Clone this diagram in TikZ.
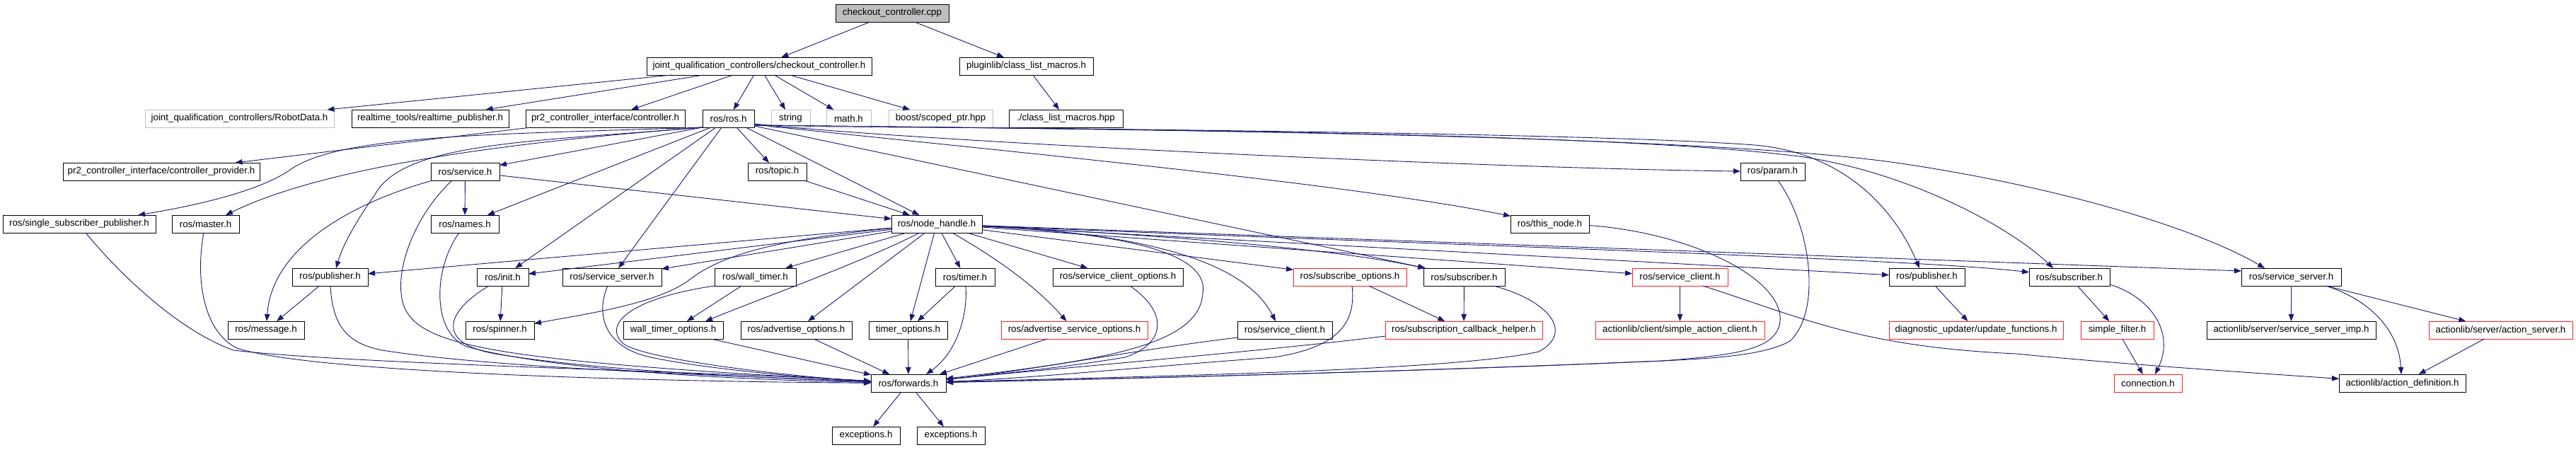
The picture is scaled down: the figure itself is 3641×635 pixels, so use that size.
\documentclass[tikz,border=0pt]{standalone}
\usepackage{fontspec}
\setmainfont{Liberation Sans}
\usetikzlibrary{arrows.meta,calc}
\definecolor{edgec}{HTML}{191970}
\definecolor{greyb}{HTML}{BFBFBF}
\definecolor{redb}{HTML}{FF2020}
\newcommand\mybox[6]{%
  \pgfmathsetmacro\mbw{#4-#3}%
  \pgfmathsetmacro\mbx{(#3+#4)/2}%
  \pgfmathsetmacro\mby{#5+12.5}%
  \node[#1, minimum width=\mbw pt] (#2) at (\mbx,\mby) {#6};}
\begin{document}
\begin{tikzpicture}[x=1pt,y=-1pt,
  nd/.style={draw=black, line width=1pt, inner sep=0pt, outer sep=0pt,
    minimum height=25pt, font=\fontsize{13.33}{16}\selectfont},
  grey/.style={nd, draw=greyb},
  redn/.style={nd, draw=redb},
  root/.style={nd, fill=greyb},
  dep/.style={draw=edgec, line width=0.9pt, -{Triangle[length=10pt,width=7.5pt]}}]
\useasboundingbox[fill=white] (0,0) rectangle (3641,635);
% row 1
\mybox{root}{cpp}{1181}{1341}{6}{checkout\_controller.cpp}
% row 2
\mybox{nd}{jqc}{914}{1232}{81}{joint\_qualification\_controllers/checkout\_controller.h}
\mybox{nd}{plug}{1356}{1545}{81}{pluginlib/class\_list\_macros.h}
% row 3
\mybox{grey}{robot}{205}{472}{155}{joint\_qualification\_controllers/RobotData.h}
\mybox{nd}{rt}{497}{719}{155}{realtime\_tools/realtime\_publisher.h}
\mybox{nd}{ctrl}{743}{968}{155}{pr2\_controller\_interface/controller.h}
\mybox{nd}{ros}{993}{1066}{155}{ros/ros.h}
\mybox{grey}{str}{1090}{1145}{155}{string}
\mybox{grey}{math}{1168}{1231}{155}{math.h}
\mybox{grey}{boost}{1256}{1403}{155}{boost/scoped\_ptr.hpp}
\mybox{nd}{clm}{1426}{1587}{155}{./class\_list\_macros.hpp}
% row 4
\mybox{nd}{prov}{89}{367}{230}{pr2\_controller\_interface/controller\_provider.h}
\mybox{nd}{svc}{609}{706}{230}{ros/service.h}
\mybox{nd}{topic}{1057}{1140}{230}{ros/topic.h}
\mybox{nd}{param}{2460}{2551}{230}{ros/param.h}
% row 5
\mybox{nd}{ssp}{4}{220}{304}{ros/single\_subscriber\_publisher.h}
\mybox{nd}{master}{243}{338}{304}{ros/master.h}
\mybox{nd}{names}{609}{705}{304}{ros/names.h}
\mybox{nd}{nh}{1260}{1388}{304}{ros/node\_handle.h}
\mybox{nd}{thisnode}{2135}{2246}{304}{ros/this\_node.h}
% row 6
\mybox{nd}{pubL}{413}{520}{379}{ros/publisher.h}
\mybox{nd}{init}{674}{747}{379}{ros/init.h}
\mybox{nd}{ssL}{795}{935}{379}{ros/service\_server.h}
\mybox{nd}{wt}{1010}{1125}{379}{ros/wall\_timer.h}
\mybox{nd}{timer}{1322}{1406}{379}{ros/timer.h}
\mybox{nd}{sco}{1488}{1672}{379}{ros/service\_client\_options.h}
\mybox{redn}{subopt}{1828}{1988}{379}{ros/subscribe\_options.h}
\mybox{nd}{subL}{2012}{2127}{379}{ros/subscriber.h}
\mybox{redn}{scR}{2307}{2442}{379}{ros/service\_client.h}
\mybox{nd}{pubR}{2670}{2777}{379}{ros/publisher.h}
\mybox{nd}{subR}{2868}{2982}{379}{ros/subscriber.h}
\mybox{nd}{ssR}{3168}{3309}{379}{ros/service\_server.h}
% row 7
\mybox{nd}{msg}{322}{430}{454}{ros/message.h}
\mybox{nd}{spin}{658}{755}{454}{ros/spinner.h}
\mybox{nd}{wto}{881}{1022}{454}{wall\_timer\_options.h}
\mybox{nd}{adv}{1047}{1204}{454}{ros/advertise\_options.h}
\mybox{nd}{tmo}{1228}{1339}{454}{timer\_options.h}
\mybox{redn}{aso}{1415}{1622}{454}{ros/advertise\_service\_options.h}
\mybox{nd}{scL}{1749}{1883}{454}{ros/service\_client.h}
\mybox{redn}{sch}{1958}{2180}{454}{ros/subscription\_callback\_helper.h}
\mybox{redn}{sac}{2255}{2494}{454}{actionlib/client/simple\_action\_client.h}
\mybox{redn}{upd}{2670}{2916}{454}{diagnostic\_updater/update\_functions.h}
\mybox{redn}{sf}{2941}{3044}{454}{simple\_filter.h}
\mybox{nd}{ssi}{3119}{3358}{454}{actionlib/server/service\_server\_imp.h}
\mybox{redn}{as}{3433}{3636}{454}{actionlib/server/action\_server.h}
% row 8
\mybox{nd}{fwd}{1231}{1337}{529}{ros/forwards.h}
\mybox{redn}{conn}{2988}{3084}{529}{connection.h}
\mybox{nd}{adef}{3306}{3485}{529}{actionlib/action\_definition.h}
% row 9
\mybox{nd}{exc1}{1176}{1272}{603}{exceptions.h}
\mybox{nd}{exc2}{1296}{1392}{603}{exceptions.h}

% ---- edges: top
\draw[dep] (cpp) -- (jqc);
\draw[dep] (cpp) -- (plug);
\draw[dep] (plug) -- (clm);
\draw[dep] (jqc) -- (robot);
\draw[dep] (jqc) -- (rt);
\draw[dep] (jqc) -- (ctrl);
\draw[dep] (jqc) -- (ros);
\draw[dep] (jqc) -- (str);
\draw[dep] (jqc) -- (math);
\draw[dep] (jqc) -- (boost);
\draw[dep] (ctrl) -- (prov);

% ---- ros.h
\draw[dep] (ros.south west) -- (svc);
\draw[dep] ([xshift=12]ros.south west) -- (names);
\draw[dep] ([xshift=19]ros.south west) -- (init);
\draw[dep] ([xshift=27]ros.south west) -- (ssL);
\draw[dep] (ros) -- (topic);
\draw[dep] (ros) -- (nh);
\draw[dep] (ros.south west) .. controls (800,195) and (480,225) .. ([xshift=76]master.north west);
\draw[dep] (ros.south west) .. controls (700,190) and (480,190) .. (410,240) .. controls (360,275) and (250,295) .. ([xshift=191]ssp.north west);
\draw[dep] (ros.south west) .. controls (760,200) and (570,200) .. (530,275) .. controls (505,310) and (485,345) .. ([xshift=62]pubL.north west);
\draw[dep] ([yshift=2]ros.south east) -- ([xshift=3]subL.north west);
\draw[dep] ([yshift=4]ros.south east) .. controls (1400,212) and (1900,258) .. (thisnode);
\draw[dep] ([yshift=5]ros.south east) .. controls (1300,200) and (2100,238) .. (param);
\draw[dep] ([yshift=3]ros.south east) .. controls (1600,183) and (2250,188) .. (2480,205) .. controls (2610,216) and (2680,300) .. ([xshift=43]pubR.north west);
\draw[dep] ([yshift=3]ros.south east) .. controls (1600,183) and (2300,188) .. (2550,222) .. controls (2700,245) and (2840,320) .. ([xshift=34]subR.north west);
\draw[dep] ([yshift=3]ros.south east) .. controls (1600,183) and (2400,190) .. (2680,230) .. controls (2900,262) and (3100,320) .. ([xshift=33]ssR.north west);

% ---- service.h, topic.h
\draw[dep] (svc) -- (names);
\draw[dep] (svc) -- (nh);
\draw[dep] (topic) -- (nh);
\draw[dep] (svc) .. controls (520,280) and (385,340) .. ([xshift=55]msg.north west);
\draw[dep] ([xshift=30]svc.south west) .. controls (590,300) and (555,380) .. (570,430) .. controls (590,490) and (700,510) .. (fwd);

% ---- node_handle.h
\draw[dep] (nh) -- (pubL);
\draw[dep] (nh) -- (init);
\draw[dep] (nh) -- (ssL);
\draw[dep] (nh) -- (wt);
\draw[dep] (nh) .. controls (1100,338) and (1020,360) .. (975,395) .. controls (930,430) and (820,445) .. (spin);
\draw[dep] (nh) .. controls (1220,370) and (1080,420) .. ([xshift=116]wto.north west);
\draw[dep] (nh) -- (adv);
\draw[dep] (nh) -- (tmo);
\draw[dep] (nh) -- (timer);
\draw[dep] (nh) .. controls (1400,360) and (1460,400) .. (aso);
\draw[dep] (nh) -- (sco);
\draw[dep] (nh) .. controls (1620,330) and (1760,370) .. ([xshift=54]scL.north west);
\draw[dep] (nh) .. controls (1600,330) and (1710,360) .. (1700,415) .. controls (1695,490) and (1550,510) .. (fwd);
\draw[dep] (nh) -- (subopt);
\draw[dep] (nh) .. controls (1700,335) and (1900,355) .. ([xshift=2]subL.north west);
\draw[dep] (nh) -- (scR);
\draw[dep] (nh) -- (pubR);
\draw[dep] (nh) .. controls (2000,345) and (2700,365) .. (subR);
\draw[dep] (nh) -- ([yshift=-4]ssR.north west);

% ---- row 5 / 6 left side
\draw[dep] ([xshift=40]names.south west) .. controls (612,380) and (610,470) .. (660,490) .. controls (800,528) and (1100,538) .. (fwd);
\draw[dep] ([xshift=117]ssp.south west) .. controls (180,400) and (260,470) .. (330,495) .. controls (500,515) and (1000,525) .. (fwd);
\draw[dep] ([xshift=45]master.south west) .. controls (275,400) and (290,470) .. (335,492) .. controls (450,530) and (1000,540) .. (fwd);
\draw[dep] (pubL) -- (msg);
\draw[dep] ([xshift=54]pubL.south west) .. controls (470,460) and (490,485) .. (540,495) .. controls (700,520) and (1000,530) .. (fwd);
\draw[dep] (init) -- (spin);
\draw[dep] ([xshift=17]init.south west) .. controls (630,440) and (615,485) .. (700,500) .. controls (850,525) and (1100,535) .. (fwd);
\draw[dep] ([xshift=64]ssL.south west) .. controls (843,440) and (850,490) .. (920,505) .. controls (1000,522) and (1150,535) .. (fwd);
\draw[dep] (wt) -- (wto);
\draw[dep] (wt.south west) .. controls (900,420) and (850,455) .. (880,485) .. controls (910,510) and (1150,535) .. (fwd);
\draw[dep] ([xshift=124]wto.south west) -- (fwd);
\draw[dep] ([xshift=103]adv.south west) -- (fwd);
\draw[dep] (timer) -- (tmo);
\draw[dep] (tmo) -- (fwd);
\draw[dep] ([xshift=43]timer.south west) .. controls (1368,450) and (1350,500) .. ([xshift=78]fwd.north west);
\draw[dep] ([xshift=65]aso.south west) -- ([xshift=97]fwd.north west);
\draw[dep] ([xshift=109]sco.south west) .. controls (1650,440) and (1650,485) .. (1590,505) .. controls (1500,520) and (1400,530) .. (fwd);
\draw[dep] ([yshift=2]scL.south west) .. controls (1600,495) and (1450,525) .. (fwd);

% ---- right part
\draw[dep] (subopt) -- (sch);
\draw[dep] ([xshift=83]subopt.south west) .. controls (1916,450) and (1900,490) .. (1800,505) .. controls (1600,520) and (1450,535) .. (fwd);
\draw[dep] (subL) -- (sch);
\draw[dep] ([yshift=4]sch.south west) .. controls (1800,495) and (1500,520) .. (fwd);
\draw[dep] ([xshift=99]subL.south west) .. controls (2190,425) and (2225,470) .. (2175,497) .. controls (2050,525) and (1600,532) .. (fwd);
\draw[dep] ([yshift=-2]thisnode.east) .. controls (2400,330) and (2530,400) .. (2515,460) .. controls (2505,495) and (2450,502) .. (2350,510) .. controls (2000,525) and (1600,535) .. (fwd);
\draw[dep] ([xshift=53]param.south west) .. controls (2560,320) and (2575,440) .. (2530,482) .. controls (2490,505) and (2400,508) .. (2300,512) .. controls (2000,525) and (1600,535) .. (fwd);
\draw[dep] (scR) -- (sac);
\draw[dep] ([xshift=100]scR.south west) .. controls (2550,450) and (2630,490) .. (2850,500) .. controls (3000,515) and (3200,528) .. (adef);
\draw[dep] (pubR) -- (upd);
\draw[dep] (subR) -- (sf);
\draw[dep] ([yshift=2]subR.south east) .. controls (3040,420) and (3075,470) .. ([xshift=58]conn.north west);
\draw[dep] (sf) -- (conn);
\draw[dep] (ssR) -- (ssi);
\draw[dep] (ssR) -- (as);
\draw[dep] ([xshift=119]ssR.south west) .. controls (3340,420) and (3390,460) .. ([xshift=88]adef.north west);
\draw[dep] (as) -- (adef);

% ---- forwards
\draw[dep] (fwd) -- (exc1);
\draw[dep] (fwd) -- (exc2);
\end{tikzpicture}
\end{document}
